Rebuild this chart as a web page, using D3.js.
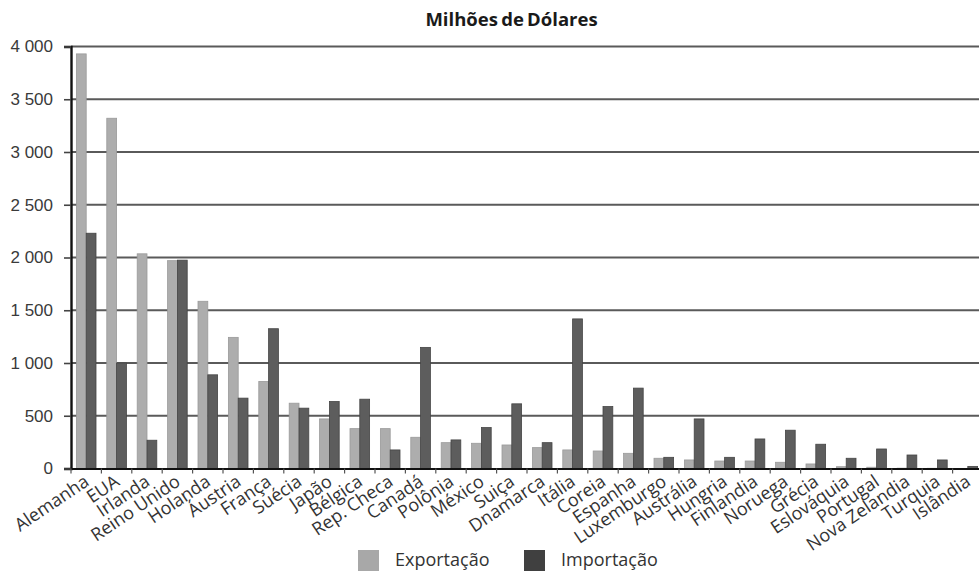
<!DOCTYPE html>
<html>
<head>
<meta charset="utf-8">
<script src="https://cdn.jsdelivr.net/npm/d3@7"></script>
<style>
  html, body { margin: 0; padding: 0; background: #fff; }
  svg { display: block; }
</style>
</head>
<body>
<svg id="chart" width="979" height="574"></svg>
<script>
// Países em ordem decrescente de exportação
const countries = [
  "Alemanha", "EUA", "Irlanda", "Reino Unido", "Holanda", "Áustria", "França",
  "Suécia", "Japão", "Bélgica", "Rep. Checa", "Canadá", "Polônia", "México",
  "Suiça", "Dnamarca", "Itália", "Coreia", "Espanha", "Luxemburgo", "Austrália",
  "Hungria", "Finlandia", "Noruega", "Grécia", "Eslováquia", "Portugal",
  "Nova Zelandia", "Turquia", "Islândia"
];
// Milhões de dólares
const exportacao = [
  3930, 3320, 2035, 1970, 1585, 1243, 825, 619, 470, 378, 378, 296, 245, 239,
  223, 198, 176, 166, 144, 97, 81, 71, 71, 59, 43, 17, 12, 3, 2, 1
];
const importacao = [
  2230, 1000, 268, 1975, 888, 667, 1325, 572, 635, 657, 176, 1148, 271, 388,
  613, 245, 1418, 587, 762, 106, 470, 106, 280, 363, 230, 97, 185, 128, 81, 20
];
const seriesNames = ["Exportação", "Importação"];
const yTicks = [0, 500, 1000, 1500, 2000, 2500, 3000, 3500, 4000];

const colors = { "Exportação": "#adadad", "Importação": "#5d5d5d" };
const strokes = { "Exportação": "#9a9a9a", "Importação": "#454545" };
const legendColors = { "Exportação": "#a8a8a8", "Importação": "#404040" };

const rows = countries.map((c, i) => ({
  country: c,
  values: [
    { key: "Exportação", value: exportacao[i] },
    { key: "Importação", value: importacao[i] }
  ]
}));

const svg = d3.select("#chart");
// A área de plotagem continua além da borda direita do SVG
const plotLeft = 71, plotRight = 983, plotTop = 46.5, plotBottom = 468.5;

const x = d3.scaleBand().domain(countries).range([plotLeft, plotRight])
  .paddingInner(0.355).paddingOuter(0.1775);
const xs = d3.scaleBand().domain(seriesNames).range([0, x.bandwidth()]).padding(0);
const y = d3.scaleLinear().domain([0, 4000]).range([plotBottom, plotTop]);

const fmt = v => v >= 1000 ? d3.format(",")(v).replace(",", " ") : String(v);

// Linhas de grade
svg.append("g")
  .selectAll("line")
  .data(yTicks.filter(t => t > 0))
  .join("line")
  .attr("x1", plotLeft).attr("x2", 979)
  .attr("y1", d => y(d)).attr("y2", d => y(d))
  .attr("stroke", "#5a5a5a").attr("stroke-width", 1.8);

// Barras
svg.append("g")
  .selectAll("g")
  .data(rows)
  .join("g")
  .attr("transform", d => `translate(${x(d.country)},0)`)
  .selectAll("rect")
  .data(d => d.values)
  .join("rect")
  .attr("x", d => xs(d.key))
  .attr("y", d => y(d.value))
  .attr("width", xs.bandwidth())
  .attr("height", d => y(0) - y(d.value))
  .attr("fill", d => colors[d.key])
  .attr("stroke", d => strokes[d.key])
  .attr("stroke-width", 0.8);

// Eixo Y
const yAxis = d3.axisLeft(y).tickValues(yTicks).tickFormat(fmt).tickSize(7).tickPadding(11);
const gy = svg.append("g").attr("transform", `translate(${plotLeft},0)`).call(yAxis);
gy.select(".domain").attr("stroke", "#111").attr("stroke-width", 2.4);
gy.selectAll(".tick line").attr("stroke", "#444").attr("stroke-width", 1.6);
gy.selectAll(".tick text")
  .attr("font-family", "'Liberation Sans', Arial, sans-serif")
  .attr("font-size", 17)
  .attr("fill", "#3a3a3a");

// Eixo X
const xAxis = d3.axisBottom(x).tickSize(0).tickFormat("");
const gx = svg.append("g").attr("transform", `translate(0,${plotBottom})`).call(xAxis);
gx.select(".domain").attr("stroke", "#111").attr("stroke-width", 2.2);

// Marcas entre categorias
const step = x.step();
svg.append("g")
  .selectAll("line")
  .data(d3.range(countries.length + 1))
  .join("line")
  .attr("x1", i => plotLeft + i * step).attr("x2", i => plotLeft + i * step)
  .attr("y1", plotBottom).attr("y2", plotBottom + 5)
  .attr("stroke", "#555").attr("stroke-width", 1.2);

// Rótulos das categorias (inclinados)
svg.append("g")
  .selectAll("text")
  .data(countries)
  .join("text")
  .attr("transform", d => `translate(${x(d) + x.bandwidth() / 2 + 4},${plotBottom + 16}) rotate(-34)`)
  .attr("text-anchor", "end")
  .attr("font-family", "'Open Sans', sans-serif")
  .attr("font-size", 18)
  .attr("fill", "#333")
  .text(d => d);

// Título
svg.append("text")
  .attr("x", 511.5).attr("y", 26)
  .attr("text-anchor", "middle")
  .attr("font-family", "'Open Sans', sans-serif")
  .attr("font-weight", "bold")
  .attr("font-size", 18.5)
  .attr("word-spacing", -1.5)
  .attr("fill", "#1a1a1a")
  .text("Milhões de Dólares");

// Legenda
const legendX = [358, 524];
const legend = svg.append("g")
  .selectAll("g")
  .data(seriesNames)
  .join("g")
  .attr("transform", (d, i) => `translate(${legendX[i]},550)`);
legend.append("rect")
  .attr("width", 21).attr("height", 21)
  .attr("fill", d => legendColors[d]);
legend.append("text")
  .attr("x", 37).attr("y", 16)
  .attr("font-family", "'Open Sans', sans-serif")
  .attr("font-size", 18)
  .attr("fill", "#333")
  .text(d => d);
</script>
</body>
</html>
